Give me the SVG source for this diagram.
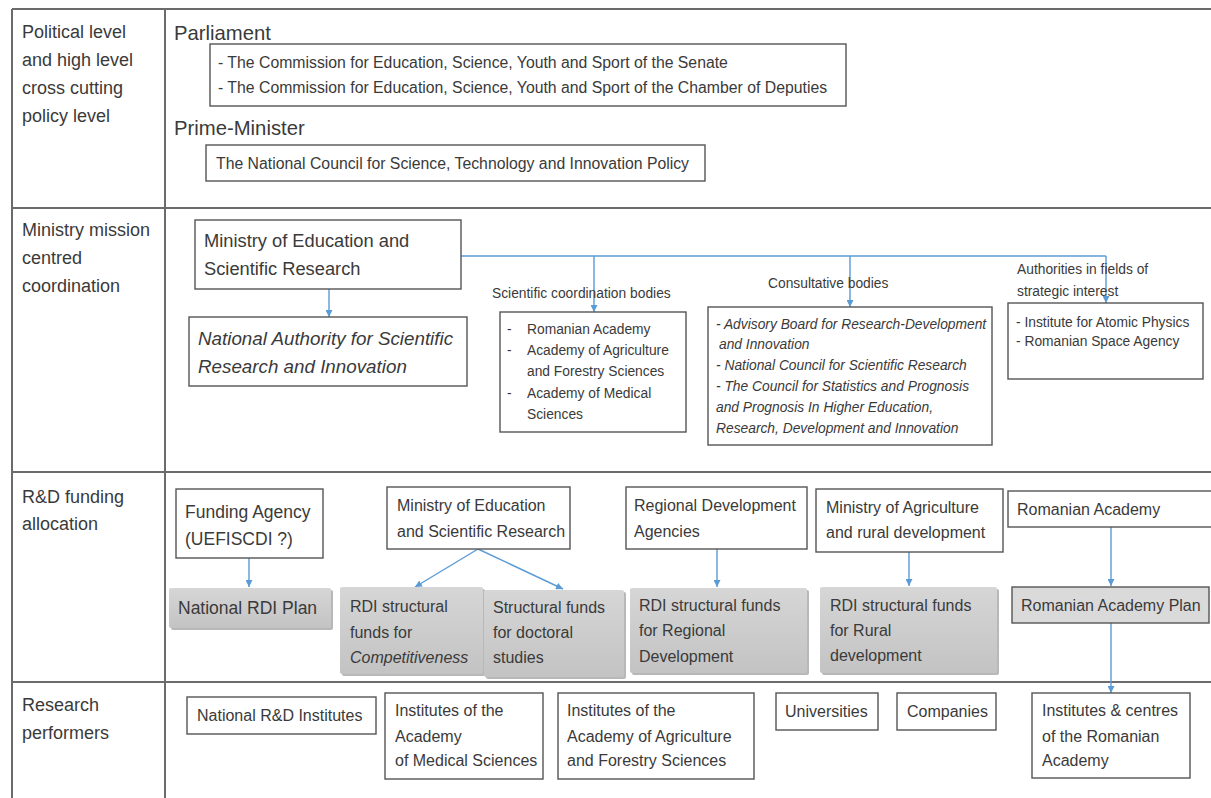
<svg xmlns="http://www.w3.org/2000/svg" width="1211" height="798" viewBox="0 0 1211 798">
<style>
text{font-family:"Liberation Sans",Arial,sans-serif;fill:#3a3a3a}
.grid{stroke:#6b6b6b;stroke-width:2;fill:none}
.box{fill:#fff;stroke:#555;stroke-width:1.4}
.gray{fill:url(#g)}
.sh{fill:#b8b8b8}
.plan{fill:#dadada;stroke:#555;stroke-width:1.4}
.lab{font-size:18px}
.hd{font-size:20.3px}
.t15{font-size:15.8px}
.t16{font-size:16px}
.t17{font-size:17.5px}
.t18{font-size:18.3px}
.t18i{font-size:18.8px;font-style:italic}
.s{font-size:13.8px}
.si{font-size:13.8px;font-style:italic}
.it{font-style:italic}
.con{stroke:#5b9bd5;stroke-width:1.4;fill:none}
</style>
<defs>
<linearGradient id="g" x1="0" y1="0" x2="0" y2="1">
<stop offset="0" stop-color="#d6d6d6"/>
<stop offset="1" stop-color="#c3c3c3"/>
</linearGradient>
<marker id="a" viewBox="0 0 10 10" refX="10" refY="5" markerWidth="7" markerHeight="7" orient="auto" markerUnits="userSpaceOnUse">
<path d="M0,0 L10,5 L0,10 z" fill="#5b9bd5"/>
</marker>
</defs>
<rect width="1211" height="798" fill="#fff"/>
<g id="table">
<path class="grid" d="M12,9 H1211 M12,9 V798 M165,9 V798 M12,208 H1211 M12,472 H1211 M12,682 H1211"/>
</g>
<g id="row-labels">
<text class="lab" x="22" y="38">Political level</text>
<text class="lab" x="22" y="66">and high level</text>
<text class="lab" x="22" y="94">cross cutting</text>
<text class="lab" x="22" y="122">policy level</text>
<text class="lab" x="22" y="236">Ministry mission</text>
<text class="lab" x="22" y="264">centred</text>
<text class="lab" x="22" y="292">coordination</text>
<text class="lab" x="22" y="503">R&amp;D funding</text>
<text class="lab" x="22" y="530">allocation</text>
<text class="lab" x="22" y="711">Research</text>
<text class="lab" x="22" y="739">performers</text>
</g>
<g id="parliament">
<text class="hd" x="174" y="40">Parliament</text>
<rect class="box" x="210" y="44" width="636" height="62"/>
<text class="t15" x="218" y="68">- The Commission for Education, Science, Youth and Sport of the Senate</text>
<text class="t15" x="218" y="93">- The Commission for Education, Science, Youth and Sport of the Chamber of Deputies</text>
</g>
<g id="prime-minister">
<text class="hd" x="174" y="135">Prime-Minister</text>
<rect class="box" x="206" y="145" width="499" height="36"/>
<text class="t15" x="216" y="169">The National Council for Science, Technology and Innovation Policy</text>
</g>
<g id="connectors">
<path class="con" d="M461,256 H1106"/>
<path class="con" d="M594,256 V312" marker-end="url(#a)"/>
<path class="con" d="M850,256 V307" marker-end="url(#a)"/>
<path class="con" d="M1106,256 V303" marker-end="url(#a)"/>
<path class="con" d="M329,289 V317" marker-end="url(#a)"/>
<path class="con" d="M249,558 V587" marker-end="url(#a)"/>
<path class="con" d="M478,549 L415,587" marker-end="url(#a)"/>
<path class="con" d="M478,549 L563,589" marker-end="url(#a)"/>
<path class="con" d="M717,549 V587" marker-end="url(#a)"/>
<path class="con" d="M909,552 V586" marker-end="url(#a)"/>
<path class="con" d="M1111,527 V586" marker-end="url(#a)"/>
<path class="con" d="M1111,623 V693" marker-end="url(#a)"/>
</g>
<g id="ministry">
<rect class="box" x="195" y="220" width="266" height="69"/>
<text class="t18" x="204" y="247">Ministry of Education and</text>
<text class="t18" x="204" y="275">Scientific Research</text>
</g>
<g id="nasri">
<rect class="box" x="189" y="317" width="278" height="69"/>
<text class="t18i" x="198" y="345">National Authority for Scientific</text>
<text class="t18i" x="198" y="373">Research and Innovation</text>
</g>
<g id="scientific-bodies">
<text class="s" x="492" y="298">Scientific coordination bodies</text>
<rect class="box" x="500" y="312" width="186" height="120"/>
<text class="s" x="507" y="334">-</text><text class="s" x="527" y="334">Romanian Academy</text>
<text class="s" x="507" y="355">-</text><text class="s" x="527" y="355">Academy of Agriculture</text>
<text class="s" x="527" y="376">and Forestry Sciences</text>
<text class="s" x="507" y="398">-</text><text class="s" x="527" y="398">Academy of Medical</text>
<text class="s" x="527" y="419">Sciences</text>
</g>
<g id="consultative">
<text class="s" x="768" y="288">Consultative bodies</text>
<rect class="box" x="708" y="307" width="284" height="138"/>
<text class="si" x="716" y="329">- Advisory  Board for Research-Development</text>
<text class="si" x="719" y="349"> and Innovation</text>
<text class="si" x="716" y="370">- National  Council for Scientific Research</text>
<text class="si" x="716" y="391">- The Council for Statistics and Prognosis</text>
<text class="si" x="716" y="412">and Prognosis In Higher Education,</text>
<text class="si" x="716" y="433">Research, Development and Innovation</text>
</g>
<g id="authorities">
<text class="s" x="1017" y="274">Authorities in fields of</text>
<text class="s" x="1017" y="296">strategic interest</text>
<rect class="box" x="1008" y="303" width="195" height="76"/>
<text class="s" x="1016" y="327">- Institute for Atomic Physics</text>
<text class="s" x="1016" y="346">- Romanian Space Agency</text>
</g>
<g id="funding-agency">
<rect class="box" x="176" y="489" width="147" height="69"/>
<text class="t17" x="185" y="518">Funding Agency</text>
<text class="t17" x="185" y="545">(UEFISCDI  ?)</text>
</g>
<g id="national-rdi-plan">
<rect class="sh" x="171" y="590" width="162" height="40" rx="2"/>
<rect class="gray" x="169" y="588" width="162" height="40" rx="2"/>
<text class="t17" x="178" y="614">National RDI Plan</text>
</g>
<g id="ministry-funding">
<rect class="box" x="387" y="487" width="183" height="62"/>
<text class="t16" x="397" y="511">Ministry of Education</text>
<text class="t16" x="397" y="537">and Scientific Research</text>
</g>
<g id="rdi-competitiveness">
<rect class="sh" x="342" y="589" width="143" height="87" rx="2"/>
<rect class="gray" x="340" y="587" width="143" height="87" rx="2"/>
<text class="t16" x="350" y="612">RDI structural</text>
<text class="t16" x="350" y="638"> funds for</text>
<text class="t16 it" x="350" y="663">Competitiveness</text>
</g>
<g id="doctoral">
<rect class="sh" x="486" y="592" width="140" height="87" rx="2"/>
<rect class="gray" x="484" y="590" width="140" height="87" rx="2"/>
<text class="t16" x="493" y="613">Structural funds</text>
<text class="t16" x="493" y="638">for doctoral</text>
<text class="t16" x="493" y="663">studies</text>
</g>
<g id="regional-agencies">
<rect class="box" x="626" y="487" width="181" height="62"/>
<text class="t16" x="634" y="511">Regional Development</text>
<text class="t16" x="634" y="537">Agencies</text>
</g>
<g id="rdi-regional">
<rect class="sh" x="632" y="590" width="177" height="85" rx="2"/>
<rect class="gray" x="630" y="588" width="177" height="85" rx="2"/>
<text class="t16" x="639" y="611">RDI structural funds</text>
<text class="t16" x="639" y="636">for Regional</text>
<text class="t16" x="639" y="662">Development</text>
</g>
<g id="ministry-agriculture">
<rect class="box" x="816" y="489" width="187" height="63"/>
<text class="t16" x="826" y="513">Ministry of Agriculture</text>
<text class="t16" x="826" y="538">and rural development</text>
</g>
<g id="rdi-rural">
<rect class="sh" x="822" y="589" width="177" height="86" rx="2"/>
<rect class="gray" x="820" y="587" width="177" height="86" rx="2"/>
<text class="t16" x="830" y="611">RDI structural funds</text>
<text class="t16" x="830" y="636">for Rural</text>
<text class="t16" x="830" y="661">development</text>
</g>
<g id="romanian-academy">
<rect class="box" x="1008" y="491" width="210" height="36"/>
<text class="t16" x="1017" y="515">Romanian Academy</text>
</g>
<g id="romanian-academy-plan">
<rect class="plan" x="1012" y="587" width="197" height="36"/>
<text class="t16" x="1021" y="611">Romanian Academy Plan</text>
</g>
<g id="national-institutes">
<rect class="box" x="187" y="697" width="189" height="37"/>
<text class="t16" x="197" y="721">National R&amp;D Institutes</text>
</g>
<g id="medical-institutes">
<rect class="box" x="385" y="693" width="158" height="86"/>
<text class="t16" x="395" y="716">Institutes of the</text>
<text class="t16" x="395" y="742">Academy</text>
<text class="t16" x="395" y="766">of Medical Sciences</text>
</g>
<g id="agriculture-institutes">
<rect class="box" x="558" y="693" width="196" height="86"/>
<text class="t16" x="567" y="716">Institutes of the</text>
<text class="t16" x="567" y="742">Academy of Agriculture</text>
<text class="t16" x="567" y="766">and Forestry Sciences</text>
</g>
<g id="universities">
<rect class="box" x="776" y="693" width="102" height="37"/>
<text class="t16" x="785" y="717">Universities</text>
</g>
<g id="companies">
<rect class="box" x="897" y="693" width="99" height="37"/>
<text class="t16" x="907" y="717">Companies</text>
</g>
<g id="academy-institutes">
<rect class="box" x="1032" y="693" width="158" height="85"/>
<text class="t16" x="1042" y="716">Institutes &amp; centres</text>
<text class="t16" x="1042" y="742">of the Romanian</text>
<text class="t16" x="1042" y="766">Academy</text>
</g>
</svg>
